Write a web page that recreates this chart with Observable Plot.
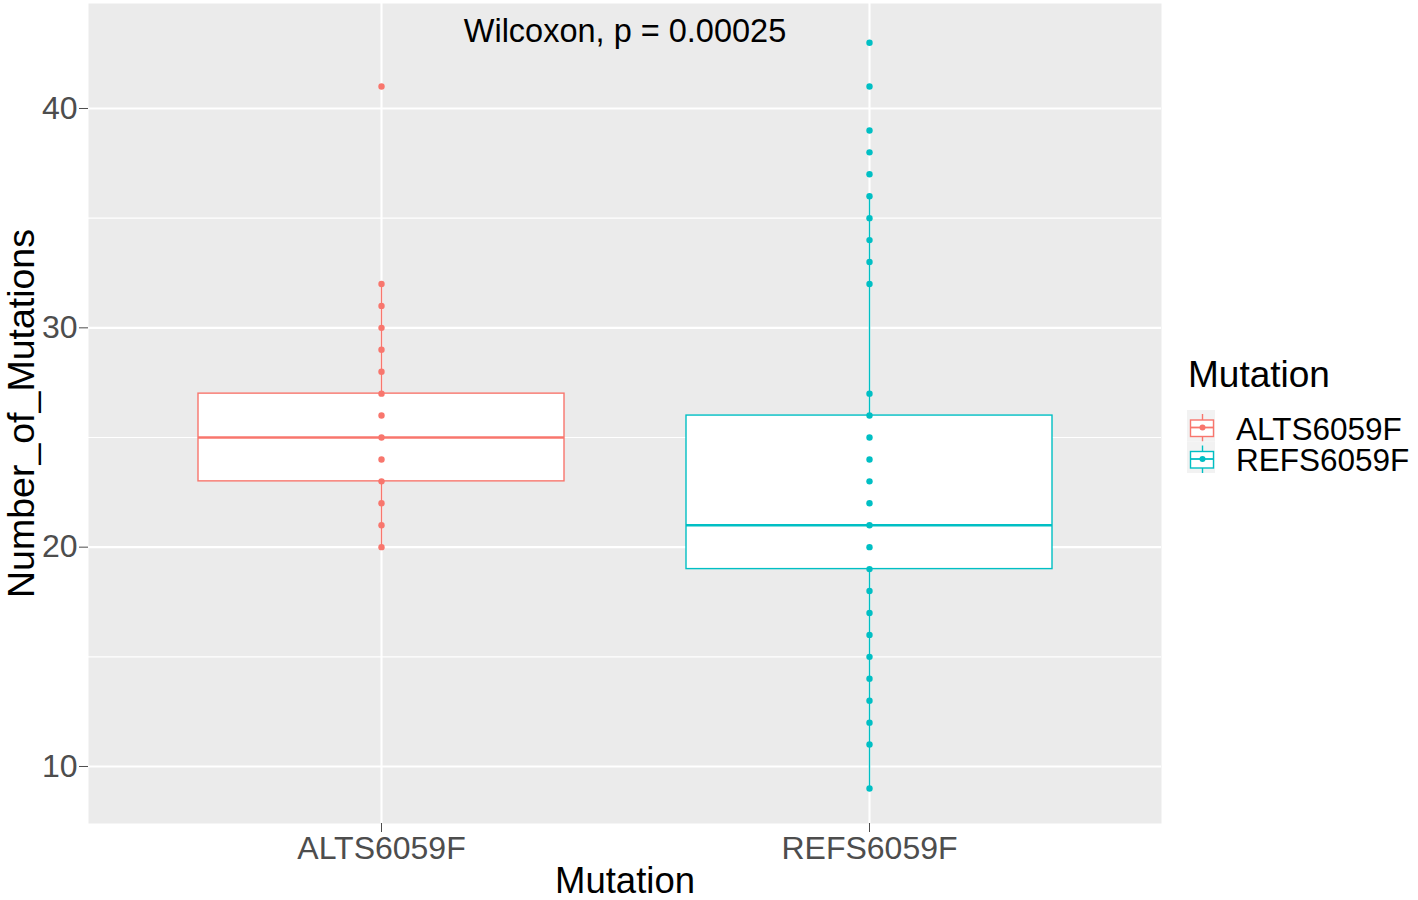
<!DOCTYPE html>
<html>
<head>
<meta charset="utf-8">
<script src="https://cdn.jsdelivr.net/npm/d3@7"></script>
<script src="https://cdn.jsdelivr.net/npm/@observablehq/plot@0.6"></script>
<style>
  html, body { margin: 0; padding: 0; background: #ffffff; }
  #wrap { position: relative; width: 1418px; height: 900px; overflow: hidden; font-family: "Liberation Sans", Arial, sans-serif; }
  #chart { position: absolute; left: 0; top: 0; }
  #legend { position: absolute; left: 1170px; top: 340px; }
</style>
</head>
<body>
<div id="wrap"><div id="chart"></div><svg id="legend" width="248" height="150"></svg></div>
<script>
// ---- data ----
const categories = ["ALTS6059F", "REFS6059F"];
const colors = ["#F8766D", "#00BFC4"];
const q1 = [23, 19];
const medians = [25, 21];
const q3 = [27, 26];
const whiskerLow = [20, 9];
const whiskerHigh = [32, 36];
const altValues = [41, 32, 31, 30, 29, 28, 27, 26, 25, 24, 23, 22, 21, 20];
const refValues = [43, 41, 39, 38, 37, 36, 35, 34, 33, 32, 27, 26, 25, 24, 23, 22, 21, 20, 19, 18, 17, 16, 15, 14, 13, 12, 11, 9];
const yTicks = [10, 20, 30, 40];
const yMinor = [15, 25, 35];
const testLabel = "Wilcoxon, p = 0.00025";
const xTitle = "Mutation";
const yTitle = "Number_of_Mutations";
const legendTitle = "Mutation";

// ---- tables ----
const stats = categories.map((c, i) => ({cat: c, q1: q1[i], med: medians[i], q3: q3[i], lo: whiskerLow[i], hi: whiskerHigh[i]}));
const points = [
  ...altValues.map(v => ({cat: categories[0], value: v})),
  ...refValues.map(v => ({cat: categories[1], value: v}))
];

const font = "'Liberation Sans', Arial, sans-serif";

const plot = Plot.plot({
  width: 1418,
  height: 900,
  marginLeft: 88,
  marginRight: 257,
  marginTop: 3,
  marginBottom: 77,
  style: {fontFamily: font, background: "white", overflow: "visible"},
  x: {type: "band", domain: categories, paddingInner: 0.251, paddingOuter: 0.224},
  y: {domain: [7.401, 44.787]},
  color: {type: "ordinal", domain: categories, range: colors},
  marks: [
    Plot.frame({fill: "#EBEBEB", stroke: null}),
    Plot.ruleY(yMinor, {stroke: "white", strokeWidth: 1.1}),
    Plot.ruleY(yTicks, {stroke: "white", strokeWidth: 2.1}),
    Plot.ruleX(categories, {x: d => d, stroke: "white", strokeWidth: 2.1}),
    Plot.ruleX(stats, {x: "cat", y1: "lo", y2: "q1", stroke: "cat", strokeWidth: 1.4}),
    Plot.ruleX(stats, {x: "cat", y1: "q3", y2: "hi", stroke: "cat", strokeWidth: 1.4}),
    Plot.barY(stats, {x: "cat", y1: "q1", y2: "q3", fill: "white", stroke: "cat", strokeWidth: 1.4}),
    Plot.tickY(stats, {x: "cat", y: "med", stroke: "cat", strokeWidth: 2.4}),
    Plot.dot(points, {x: "cat", y: "value", fill: "cat", r: 3.2}),
    Plot.axisY({ticks: yTicks, tickSize: 9, tickPadding: 2, fontSize: 32, color: "#4D4D4D", label: null}),
    Plot.axisX({tickSize: 9, tickPadding: 4, fontSize: 32, color: "#4D4D4D", label: null}),
    Plot.text([testLabel], {text: d => d, frameAnchor: "top", dy: 28, lineAnchor: "middle", textAnchor: "middle", fontSize: 32.5, fill: "black"}),
    Plot.text([xTitle], {text: d => d, frameAnchor: "bottom", dy: 58, lineAnchor: "middle", textAnchor: "middle", fontSize: 36.5, fill: "black"}),
    Plot.text([yTitle], {text: d => d, frameAnchor: "left", dx: -67, rotate: -90, lineAnchor: "middle", textAnchor: "middle", fontSize: 37.5, fill: "black"})
  ]
});
document.getElementById("chart").appendChild(plot);

// ---- legend ----
const lg = d3.select("#legend");
lg.append("text").attr("x", 18).attr("y", 47).attr("font-family", font).attr("font-size", 37).attr("fill", "black").text(legendTitle);
categories.forEach((c, i) => {
  const top = 70 + i * 31.5;
  const cx = 32.5;
  const g = lg.append("g");
  g.append("rect").attr("x", 17).attr("y", top).attr("width", 28).attr("height", 31.5).attr("fill", "#F2F2F2");
  g.append("line").attr("x1", cx).attr("x2", cx).attr("y1", top + 4).attr("y2", top + 10).attr("stroke", colors[i]).attr("stroke-width", 1.4);
  g.append("line").attr("x1", cx).attr("x2", cx).attr("y1", top + 26.5).attr("y2", top + 31.5).attr("stroke", colors[i]).attr("stroke-width", 1.4);
  g.append("rect").attr("x", 20.5).attr("y", top + 10).attr("width", 23).attr("height", 16.5).attr("fill", "white").attr("stroke", colors[i]).attr("stroke-width", 1.4);
  g.append("line").attr("x1", 20.5).attr("x2", 43.5).attr("y1", top + 17.5).attr("y2", top + 17.5).attr("stroke", colors[i]).attr("stroke-width", 1.8);
  g.append("circle").attr("cx", cx).attr("cy", top + 17.5).attr("r", 3).attr("fill", colors[i]);
  lg.append("text").attr("x", 66).attr("y", top + 29.5).attr("font-family", font).attr("font-size", 31.5).attr("fill", "black").text(c);
});
</script>
</body>
</html>
